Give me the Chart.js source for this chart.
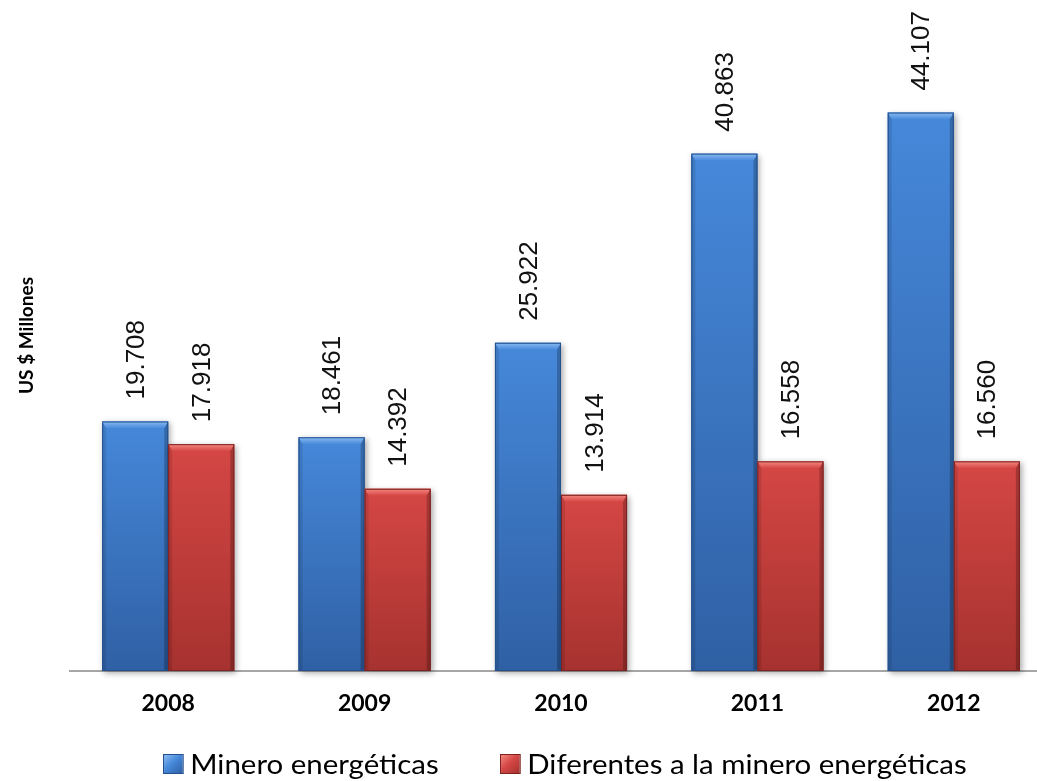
<!DOCTYPE html>
<html lang="es">
<head>
<meta charset="utf-8">
<title>Exportaciones</title>
<script src="https://cdn.jsdelivr.net/npm/chart.js@4/dist/chart.umd.min.js"></script>
<style>
    html, body { margin: 0; padding: 0; background: #fff; }
    body { width: 1037px; height: 781px; overflow: hidden; position: relative; }
    #wrap { position: absolute; left: 0; top: 0; width: 1052px; height: 781px; }
    .legend-item {
        position: absolute; top: 747px; display: flex; align-items: center;
        font-family: Lato, "Open Sans", sans-serif; font-size: 27px; color: #000;
        white-space: nowrap; transform-origin: left center; transform: scaleX(1.09);
    }
    .legend-box { width: 19px; height: 20px; margin-right: 6px; box-sizing: border-box; }
</style>
</head>
<body>
<div id="wrap"><canvas id="chart"></canvas></div>
<div id="legend"></div>

<script>
// ===== 数据 =====
const years = ['2008', '2009', '2010', '2011', '2012'];
const mineroValues = [19708, 18461, 25922, 40863, 44107];
const diferentesValues = [17918, 14392, 13914, 16558, 16560];
const seriesNames = ['Minero energéticas', 'Diferentes a la minero energéticas'];
const yAxisTitle = 'US $ Millones';

// ===== 颜色（浮雕效果） =====
const palettes = [
    { base: '#3A78C9', top: '#4688DA', bottom: '#2F60A4', light: '#8ABBF2', dark: '#24508E' },
    { base: '#C23C3A', top: '#D54745', bottom: '#A6322F', light: '#F4877F', dark: '#7C2220' }
];

// 西语千位分隔：19708 -> 19.708
function fmt(v) {
    return v.toString().replace(/\B(?=(\d{3})+(?!\d))/g, '.');
}

// 柱子浮雕 + 数值标签
const bevelPlugin = {
    id: 'bevel',
    afterDatasetsDraw(chart) {
        const c = chart.ctx;
        chart.data.datasets.forEach((ds, di) => {
            const pal = palettes[di];
            const meta = chart.getDatasetMeta(di);
            meta.data.forEach((bar, i) => {
                const { x, y, base, width } = bar.getProps(['x', 'y', 'base', 'width'], true);
                const l = x - width / 2, r = x + width / 2;
                const b = 7, s = 4;
                c.save();

                // 主体 + 阴影
                const g = c.createLinearGradient(0, y, 0, base);
                g.addColorStop(0, pal.top);
                g.addColorStop(1, pal.bottom);
                c.shadowColor = 'rgba(0,0,0,0.35)';
                c.shadowBlur = 6;
                c.shadowOffsetX = 2;
                c.shadowOffsetY = 2;
                c.fillStyle = g;
                c.fillRect(l, y, width, base - y);
                c.shadowColor = 'transparent';

                // 顶部斜面
                const tg = c.createLinearGradient(0, y, 0, y + b);
                tg.addColorStop(0, pal.light);
                tg.addColorStop(1, pal.top);
                c.fillStyle = tg;
                c.beginPath();
                c.moveTo(l, y); c.lineTo(r, y); c.lineTo(r - s, y + b); c.lineTo(l + s, y + b);
                c.closePath(); c.fill();

                // 左右侧边
                c.fillStyle = 'rgba(0,0,0,0.10)';
                c.beginPath();
                c.moveTo(l, y); c.lineTo(l + s, y + b); c.lineTo(l + s, base); c.lineTo(l, base);
                c.closePath(); c.fill();
                c.fillStyle = 'rgba(0,0,0,0.22)';
                c.beginPath();
                c.moveTo(r, y); c.lineTo(r - s, y + b); c.lineTo(r - s, base); c.lineTo(r, base);
                c.closePath(); c.fill();

                // 描边
                c.strokeStyle = pal.dark;
                c.lineWidth = 1;
                c.strokeRect(l + 0.5, y + 0.5, width - 1, base - y - 1);

                // 数值标签（竖排）
                c.translate(x + 1.5, y - 22);
                c.rotate(-Math.PI / 2);
                c.font = '26px "Liberation Sans", Arial, sans-serif';
                c.fillStyle = '#111';
                c.textAlign = 'left';
                c.textBaseline = 'middle';
                c.fillText(fmt(ds.data[i]), 0, 0);
                c.restore();
            });
        });
    }
};

const ctx = document.getElementById('chart').getContext('2d');

const chart = new Chart(ctx, {
    type: 'bar',
    data: {
        labels: years,
        datasets: [
            {
                label: seriesNames[0],
                data: mineroValues,
                backgroundColor: palettes[0].base,
                categoryPercentage: 0.6726,
                barPercentage: 1.0
            },
            {
                label: seriesNames[1],
                data: diferentesValues,
                backgroundColor: palettes[1].base,
                categoryPercentage: 0.6726,
                barPercentage: 1.0
            }
        ]
    },
    options: {
        responsive: true,
        maintainAspectRatio: false,
        animation: false,
        layout: { padding: 0 },
        plugins: {
            legend: { display: false },
            tooltip: { enabled: false }
        },
        scales: {
            x: {
                grid: { display: false },
                border: { display: true, color: '#A6A6A6', width: 2 },
                ticks: {
                    color: '#000',
                    padding: 11,
                    font: { family: 'Lato, "Open Sans", sans-serif', size: 23, weight: 'bold' }
                },
                afterFit(scale) { scale.height = 110; }
            },
            y: {
                min: 0,
                max: 53000,
                grid: { display: false },
                border: { display: false },
                ticks: { display: false },
                title: {
                    display: true,
                    text: yAxisTitle,
                    color: '#000',
                    padding: { top: 15, bottom: 0 },
                    font: { family: 'Lato, "Open Sans", sans-serif', size: 19, weight: 'bold' }
                },
                afterFit(scale) { scale.width = 70; }
            }
        }
    },
    plugins: [bevelPlugin]
});

// ===== 图例（HTML） =====
const legend = document.getElementById('legend');
const legendLeft = [163, 500];
seriesNames.forEach((name, i) => {
    const pal = palettes[i];
    const item = document.createElement('div');
    item.className = 'legend-item';
    item.style.left = legendLeft[i] + 'px';
    const box = document.createElement('span');
    box.className = 'legend-box';
    box.style.background = `linear-gradient(135deg, ${pal.light} 0%, ${pal.top} 45%, ${pal.bottom} 100%)`;
    box.style.border = `1px solid ${pal.dark}`;
    item.appendChild(box);
    const txt = document.createElement('span');
    txt.textContent = name;
    item.appendChild(txt);
    legend.appendChild(item);
});
</script>
</body>
</html>
